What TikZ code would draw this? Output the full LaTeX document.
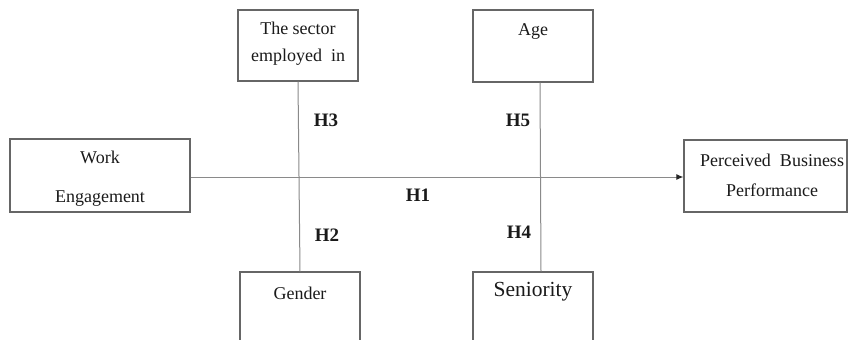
\documentclass[tikz,border=0pt]{standalone}
\usepackage{fontspec}
\setmainfont{Liberation Serif}
\usetikzlibrary{arrows.meta}
\definecolor{boxline}{HTML}{666666}
\definecolor{conline}{HTML}{8A8A8A}
\definecolor{txt}{HTML}{1A1A1A}
\begin{document}
\begin{tikzpicture}[x=1pt,y=-1pt,
  frame/.style={draw=boxline,line width=1.3pt,fill=white,inner sep=0pt},
  lbl/.style={text=txt,align=center,inner sep=0pt,font=\fontsize{18}{22}\selectfont},
  hyp/.style={text=txt,inner sep=0pt,font=\fontsize{19}{22}\selectfont\bfseries},
  conn/.style={draw=conline,line width=1pt}]
\useasboundingbox (0,0) rectangle (849,340);
\clip (0,0) rectangle (849,340);
\fill[white] (0,0) rectangle (849,340);
% boxes
\node[frame,minimum width=180pt,minimum height=73pt] (work) at (100,175.5) {};
\node[frame,minimum width=120pt,minimum height=71pt] (sector) at (298,45.5) {};
\node[frame,minimum width=120pt,minimum height=72pt] (age) at (533,46) {};
\node[frame,minimum width=163pt,minimum height=72pt] (perf) at (765.5,176) {};
\node[frame,minimum width=120pt,minimum height=80pt] (gender) at (300,312) {};
\node[frame,minimum width=120pt,minimum height=80pt] (sen) at (533,312) {};
% texts
\node[lbl] (worktxt) at (100,179) {Work\\[17pt]Engagement};
\node[lbl,font=\fontsize{18}{27}\selectfont] (sectortxt) at (298,43.5) {The sector\\employed\ \ in};
\node[lbl] (agetxt) at (533,32) {Age};
\node[lbl,font=\fontsize{18}{30}\selectfont] (perftxt) at (772,175) {Perceived\ \ Business\\Performance};
\node[lbl] (gendertxt) at (300,293) {Gender};
\node[lbl,font=\fontsize{21.5}{24}\selectfont] (sentxt) at (533,292) {Seniority};
% connectors
\draw[conn,-{Latex[length=7pt,width=6pt,color=black!85]}] (work.east |- 0,177) -- (perf.west |- 0,177);
\draw[conn] (sector.south) -- (gender.north);
\draw[conn] ([xshift=7pt]age.south) -- ([xshift=8pt]sen.north);
% hypothesis labels
\node[hyp] (h3) at (326,120) {H3};
\node[hyp] (h5) at (518,120) {H5};
\node[hyp] (h1) at (418,195) {H1};
\node[hyp] (h2) at (327,235) {H2};
\node[hyp] (h4) at (519,232) {H4};
\end{tikzpicture}
\end{document}
